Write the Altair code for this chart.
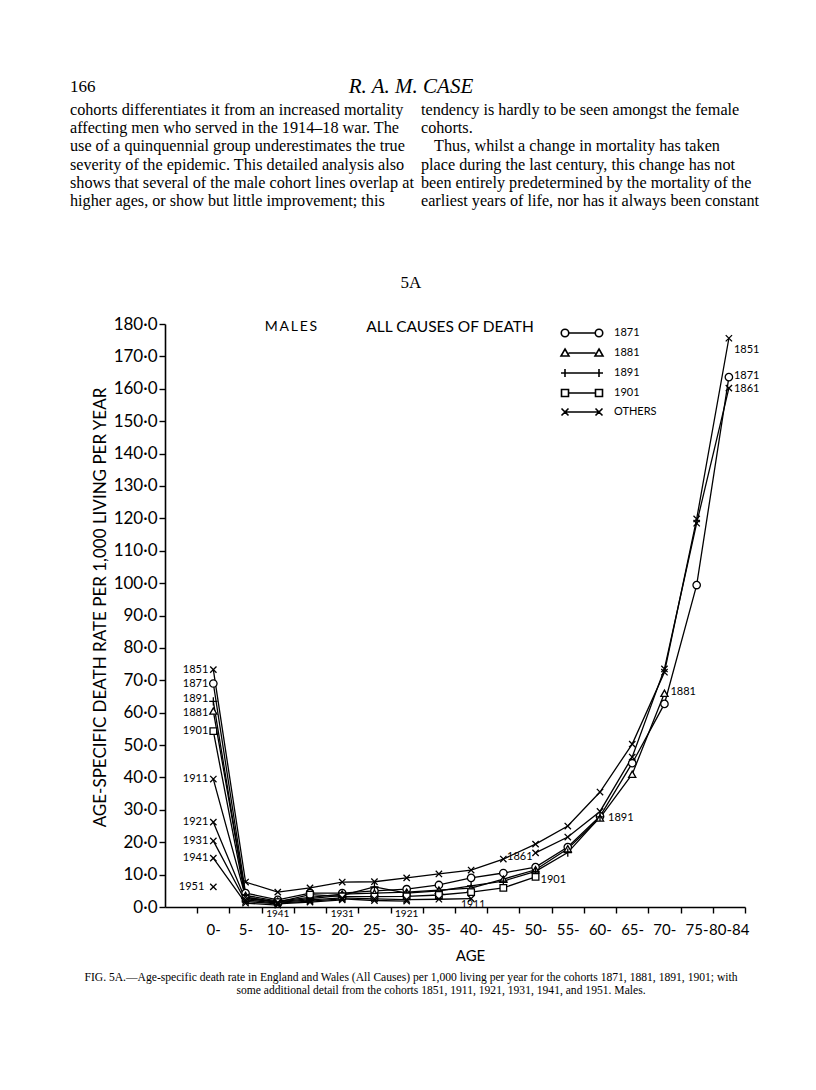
import altair as alt
import pandas as pd

# ---------------- data ----------------
AGE_GROUPS = ["0-", "5-", "10-", "15-", "20-", "25-", "30-", "35-", "40-",
              "45-", "50-", "55-", "60-", "65-", "70-", "75-", "80-84"]

C1851 = [73.3, 7.7, 4.6, 5.9, 7.7, 7.8, 9.0, 10.2, 11.4, 14.8, 19.4, 25.0, 35.5, 50.3, 72.5, 119.8, 175.6]
C1861 = [16.7, 21.6, 29.5, 46.3, 73.5, 118.5, 160.2]          # from age 50-
C1871 = [69.0, 4.3, 2.2, 4.3, 4.3, 5.0, 5.5, 6.8, 9.0, 10.5, 12.3, 18.5, 28.0, 44.4, 62.7, 99.4, 163.6]
C1881 = [60.5, 3.6, 1.8, 3.0, 4.0, 4.3, 4.6, 5.2, 5.8, 8.6, 11.5, 18.0, 27.5, 41.0, 66.0]
C1891 = [63.5, 3.0, 1.6, 2.6, 3.6, 6.2, 4.3, 5.0, 6.5, 8.0, 11.0, 16.8, 27.8]
C1901 = [54.3, 2.6, 1.5, 3.8, 3.3, 3.2, 3.3, 3.7, 4.6, 5.9, 9.3]
C1911 = [39.5, 3.0, 1.4, 2.2, 2.8, 2.5, 2.3, 2.4, 2.6]
C1921 = [26.2, 2.2, 1.2, 1.8, 2.5, 2.0, 1.8]
C1931 = [20.4, 1.7, 1.0, 1.5, 2.2]
C1941 = [15.1, 1.2, 0.6]
C1951 = [6.2]

COHORTS = ["1851", "1861", "1871", "1881", "1891", "1901", "1911", "1921", "1931", "1941", "1951"]
SERIES = [C1851, C1861, C1871, C1881, C1891, C1901, C1911, C1921, C1931, C1941, C1951]
FIRST_AGE = {"1861": "50-"}

GROUPS = ["1871", "1881", "1891", "1901", "OTHERS"]

Y_TITLE = "AGE-SPECIFIC DEATH RATE PER 1,000 LIVING PER YEAR"
X_TITLE = "AGE"
HEADING_1 = "MALES"
HEADING_2 = "ALL CAUSES OF DEATH"

PAGE_NUMBER = "166"
RUNNING_HEAD = "R. A. M. CASE"
LEFT_LINES = [
    "cohorts differentiates it from an increased mortality",
    "affecting men who served in the 1914\u201318 war.  The",
    "use of a quinquennial group underestimates the true",
    "severity of the epidemic.  This detailed analysis also",
    "shows that several of the male cohort lines overlap at",
    "higher ages, or show but little improvement; this",
]
RIGHT_LINES = [
    "tendency is hardly to be seen amongst the female",
    "cohorts.",
    "Thus, whilst a change in mortality has taken",
    "place during the last century, this change has not",
    "been entirely predetermined by the mortality of the",
    "earliest years of life, nor has it always been constant",
]
FIG_NAME = "5A"
CAPTION = [
    "FIG. 5A.\u2014Age-specific death rate in England and Wales (All Causes) per 1,000 living per year for the cohorts 1871, 1881, 1891, 1901; with",
    "some additional detail from the cohorts 1851, 1911, 1921, 1931, 1941, and 1951.  Males.",
]

# cohort labels: (text, cohort, age group)
LABELS = [
    ("1851", "1851", "0-"), ("1871", "1871", "0-"), ("1891", "1891", "0-"),
    ("1881", "1881", "0-"), ("1901", "1901", "0-"), ("1911", "1911", "0-"),
    ("1921", "1921", "0-"), ("1931", "1931", "0-"), ("1941", "1941", "0-"),
    ("1951", "1951", "0-"),
    ("1851", "1851", "80-84"), ("1871", "1871", "80-84"), ("1861", "1861", "80-84"),
    ("1881", "1881", "70-"), ("1891", "1891", "60-"), ("1861", "1861", "50-"),
    ("1901", "1901", "50-"), ("1911", "1911", "40-"), ("1921", "1921", "30-"),
    ("1931", "1931", "20-"), ("1941", "1941", "10-"),
]

# ---------------- tables ----------------
rows = []
for c, vals in zip(COHORTS, SERIES):
    start = AGE_GROUPS.index(FIRST_AGE.get(c, "0-"))
    for k, v in enumerate(vals):
        rows.append({"cohort": c, "age": AGE_GROUPS[start + k], "idx": start + k,
                     "rate": v, "group": c if c in GROUPS else "OTHERS"})
df = pd.DataFrame(rows)

# label styles (placement relative to their point): align, dx, dy, font size
LABEL_STYLE = {
    ("1891", "0-"): ("right", -5, -2, 11),
    ("1881", "0-"): ("right", -5, 2, 11),
    ("1951", "0-"): ("right", -9, 0, 11),
    ("1851", "80-84"): ("left", 5, 12, 11),
    ("1871", "80-84"): ("left", 5, -1, 11),
    ("1861", "80-84"): ("left", 5, 1, 11),
    ("1881", "70-"): ("left", 6, -1, 11),
    ("1891", "60-"): ("left", 8, 1, 11),
    ("1861", "50-"): ("right", -3, 4, 11),
    ("1901", "50-"): ("left", 5, 3, 11),
    ("1911", "40-"): ("center", 2, 6, 10.5),
    ("1921", "30-"): ("center", 0, 13, 10),
    ("1931", "20-"): ("center", 0, 14, 10),
    ("1941", "10-"): ("center", 0, 9, 10),
}
lab_rows = []
for text, c, age in LABELS:
    r = df[(df.cohort == c) & (df.age == age)].iloc[0]
    lab_rows.append({"text": text, "idx": int(r.idx), "rate": float(r.rate), "key": f"{c}|{age}"})
labdf = pd.DataFrame(lab_rows)

X_VALUES = [i - 0.5 for i in range(len(AGE_GROUPS) + 1)]
label_array = "[" + ",".join(f"'{a}'" for a in AGE_GROUPS) + "]"

AX_FONT = "Lato"
x_enc = alt.X("idx:Q", scale=alt.Scale(domain=[-1.5, 16.5], nice=False, zero=False),
              axis=alt.Axis(values=X_VALUES, tickCount=40,
                            labelExpr=f"{label_array}[round(datum.value + 0.5)] || ''",
                            labelOffset=16, labelFlush=False, labelOverlap=False, labelBound=False,
                            labelFontSize=15, labelPadding=9, tickSize=6,
                            title=X_TITLE, titleX=305, titleY=48, titleAlign="center",
                            titleBaseline="middle", titleFontSize=15, titleFontWeight="normal",
                            titleFont=AX_FONT))
y_enc = alt.Y("rate:Q", scale=alt.Scale(domain=[0, 180], nice=False),
              axis=alt.Axis(values=list(range(0, 181, 10)), tickCount=40,
                            labelOverlap=False, labelBound=False, labelFlush=False,
                            labelExpr="replace(format(datum.value, '.1f'), '.', '\u00b7')",
                            labelFontSize=17, labelPadding=2, tickSize=6,
                            title=Y_TITLE, titleX=-65, titleY=283, titleAlign="center",
                            titleBaseline="middle", titleAngle=-90, titleFontSize=17,
                            titleFontWeight="normal", titleFont=AX_FONT))

lines = alt.Chart(df).mark_line(color="black", strokeWidth=1.3).encode(
    x=x_enc, y=y_enc, detail="cohort:N", order="idx:Q")

PLUS = "M -1.2 0 L 1.2 0 M 0 -1.2 L 0 1.2"
XSYM = "M -1 -1 L 1 1 M -1 1 L 1 -1"
points = alt.Chart(df).mark_point(filled=False, fill="white", stroke="black",
                                  strokeWidth=1.3, opacity=1).encode(
    x="idx:Q", y="rate:Q",
    shape=alt.Shape("group:N", scale=alt.Scale(domain=GROUPS,
                    range=["circle", "triangle-up", PLUS, "square", XSYM]), legend=None),
    size=alt.Size("group:N", scale=alt.Scale(domain=GROUPS, range=[55, 40, 40, 42, 28]),
                  legend=None),
)

LEG_PATHS = [
    "M -2.65 0 L 2.65 0 M -2.65 0 A 0.75 0.75 0 1 0 -4.15 0 A 0.75 0.75 0 1 0 -2.65 0 "
    "M 4.15 0 A 0.75 0.75 0 1 0 2.65 0 A 0.75 0.75 0 1 0 4.15 0",
    "M -3.4 -0.8 L -2.6 0.6 L -4.2 0.6 Z M 3.4 -0.8 L 4.2 0.6 L 2.6 0.6 Z M -2.7 0 L 2.7 0",
    "M -4.2 0 L 4.2 0 M -3.4 -0.8 L -3.4 0.8 M 3.4 -0.8 L 3.4 0.8",
    "M -4.1 -0.7 L -2.7 -0.7 L -2.7 0.7 L -4.1 0.7 Z M 2.7 -0.7 L 4.1 -0.7 L 4.1 0.7 L 2.7 0.7 Z "
    "M -2.7 0 L 2.7 0",
    "M -4.1 -0.7 L -2.7 0.7 M -4.1 0.7 L -2.7 -0.7 M 2.7 -0.7 L 4.1 0.7 M 2.7 0.7 L 4.1 -0.7 "
    "M -3.4 0 L 3.4 0",
]
THIN = "\u2009"
legend_layer = alt.Chart(df).transform_filter("false").mark_point(
    filled=False, stroke="black", strokeWidth=1.6, opacity=1).encode(
    x="idx:Q", y="rate:Q",
    shape=alt.Shape("group:N", scale=alt.Scale(domain=GROUPS, range=LEG_PATHS),
                    legend=alt.Legend(orient="none", legendX=411, legendY=3, title=None,
                                      symbolSize=100, symbolStrokeWidth=1.6,
                                      symbolStrokeColor="black", symbolOffset=0,
                                      labelFont=AX_FONT, labelFontSize=11, labelOffset=26,
                                      labelColor="black", rowPadding=5, padding=0)),
)

label_layers = []
for (text, c, age) in LABELS:
    align, dx, dy, fs = LABEL_STYLE.get((c, age), ("right", -5, 0, 11))
    label_layers.append(
        alt.Chart(labdf).transform_filter(alt.datum.key == f"{c}|{age}")
        .mark_text(align=align, baseline="middle", dx=dx, dy=dy, font=AX_FONT,
                   fontSize=fs, color="black")
        .encode(x="idx:Q", y="rate:Q", text="text:N"))


def free_text(t, x, y, size, font="Liberation Serif", align="left", style="normal",
              weight="normal"):
    return alt.Chart(pd.DataFrame({"t": [t]})).mark_text(
        align=align, baseline="middle", font=font, fontSize=size, fontStyle=style,
        fontWeight=weight, color="black").encode(text="t:N", x=alt.value(x), y=alt.value(y))


page = []
page.append(free_text(THIN.join(HEADING_1), 126, 3, 14, font=AX_FONT, align="center"))
page.append(free_text(HEADING_2, 285, 3, 15.5, font=AX_FONT, align="center"))
page.append(free_text(PAGE_NUMBER, -95, -237, 17))
page.append(free_text(RUNNING_HEAD, 246, -237, 21, align="center", style="italic"))
for i, ln in enumerate(LEFT_LINES):
    page.append(free_text(ln, -95, -214 + i * 18.2, 16.2))
for i, ln in enumerate(RIGHT_LINES):
    page.append(free_text(ln, 269 if ln.startswith("Thus") else 256, -214 + i * 18.2, 16.2))
page.append(free_text(FIG_NAME, 246, -41, 17, align="center"))
page.append(free_text(CAPTION[0], 246, 654, 11.6, align="center"))
page.append(free_text(CAPTION[1], 276, 667, 11.6, align="center"))

chart = alt.layer(lines, points, legend_layer, *label_layers, *page).resolve_scale(
    shape="independent", size="independent").properties(
    width=580, height=583,
    autosize=alt.AutoSizeParams(type="none"),
    padding={"left": 157, "top": 316, "right": 55, "bottom": 145},
    background="white",
).configure_view(stroke=None).configure_axis(
    grid=False, domainColor="black", domainWidth=1.6, tickColor="black", tickWidth=1.4,
    labelColor="black", titleColor="black", labelFont=AX_FONT,
)

chart.save("out.html", embed_options={"renderer": "svg", "actions": False})
